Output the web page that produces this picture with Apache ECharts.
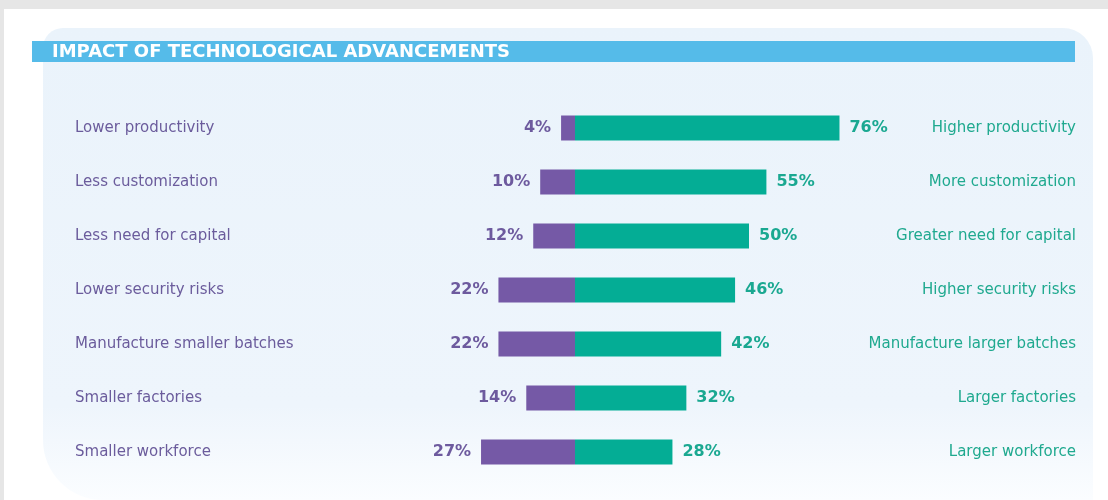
<!DOCTYPE html>
<html>
<head>
<meta charset="utf-8">
<title>Impact of technological advancements</title>
<script src="https://cdn.jsdelivr.net/npm/echarts@6/dist/echarts.min.js"></script>
<style>
    html, body { margin: 0; padding: 0; background: #ffffff; }
    #main { width: 1108px; height: 500px; }
</style>
</head>
<body>
<div id="main"></div>
<script>
// data
var leftLabels = ['Lower productivity', 'Less customization', 'Less need for capital', 'Lower security risks',
    'Manufacture smaller batches', 'Smaller factories', 'Smaller workforce'];
var rightLabels = ['Higher productivity', 'More customization', 'Greater need for capital', 'Higher security risks',
    'Manufacture larger batches', 'Larger factories', 'Larger workforce'];
var leftValues = [4, 10, 12, 22, 22, 14, 27];
var rightValues = [76, 55, 50, 46, 42, 32, 28];

var purple = '#7559a6';
var teal = '#04ad95';

var myChart = echarts.init(document.getElementById('main'));

myChart.setOption({
    backgroundColor: '#ffffff',
    animation: false,
    graphic: [
        // grey strip on top
        { type: 'rect', shape: { x: 0, y: 0, width: 1108, height: 9 }, style: { fill: '#e6e6e6' }, silent: true },
        { type: 'rect', shape: { x: 0, y: 0, width: 4, height: 500 }, style: { fill: '#e6e6e6' }, silent: true },
        // light blue panel
        {
            type: 'rect', z: -10, silent: true,
            shape: { x: 43, y: 28, width: 1050, height: 472, r: [20, 30, 0, 60] },
            style: {
                fill: new echarts.graphic.LinearGradient(0, 0, 0, 1, [
                    { offset: 0, color: '#eaf3fb' },
                    { offset: 0.8, color: '#eef5fc' },
                    { offset: 1, color: '#fbfdff' }
                ])
            }
        },
        // title bar
        { type: 'rect', shape: { x: 32, y: 41, width: 1043, height: 21 }, style: { fill: '#55bbe9' }, silent: true },
        {
            type: 'text', left: 52, top: 43, silent: true,
            style: { text: 'IMPACT OF TECHNOLOGICAL ADVANCEMENTS', fill: '#ffffff', font: 'bold 18px "DejaVu Sans"' }
        }
    ],
    grid: { left: 227, right: 185, top: 101, bottom: 21 },
    xAxis: {
        type: 'value',
        min: -100,
        max: 100,
        show: false
    },
    yAxis: [
        {
            type: 'category',
            data: leftLabels,
            inverse: true,
            position: 'left',
            axisLine: { show: false },
            axisTick: { show: false },
            axisLabel: {
                align: 'left',
                margin: 152,
                color: '#6b5c9c',
                fontFamily: 'DejaVu Sans',
                fontSize: 15,
                padding: [0, 0, 4, 0]
            }
        },
        {
            type: 'category',
            data: rightLabels,
            inverse: true,
            position: 'right',
            axisLine: { show: false },
            axisTick: { show: false },
            axisLabel: {
                align: 'right',
                margin: 153,
                color: '#1fa98f',
                fontFamily: 'DejaVu Sans',
                fontSize: 15,
                padding: [0, 0, 4, 0]
            }
        }
    ],
    series: [
        {
            name: 'Left',
            type: 'bar',
            stack: 'total',
            barWidth: 25,
            data: leftValues.map(function (v) { return -v; }),
            itemStyle: { color: purple },
            label: {
                show: true,
                position: 'left',
                distance: 10,
                color: '#6d5a9e',
                fontFamily: 'DejaVu Sans',
                fontWeight: 'bold',
                fontSize: 16,
                formatter: function (p) { return Math.abs(p.value) + '%'; }
            }
        },
        {
            name: 'Right',
            type: 'bar',
            stack: 'total',
            barWidth: 25,
            data: rightValues,
            itemStyle: { color: teal },
            label: {
                show: true,
                position: 'right',
                distance: 10,
                color: '#1aa891',
                fontFamily: 'DejaVu Sans',
                fontWeight: 'bold',
                fontSize: 16,
                formatter: function (p) { return p.value + '%'; }
            }
        }
    ]
});
</script>
</body>
</html>
